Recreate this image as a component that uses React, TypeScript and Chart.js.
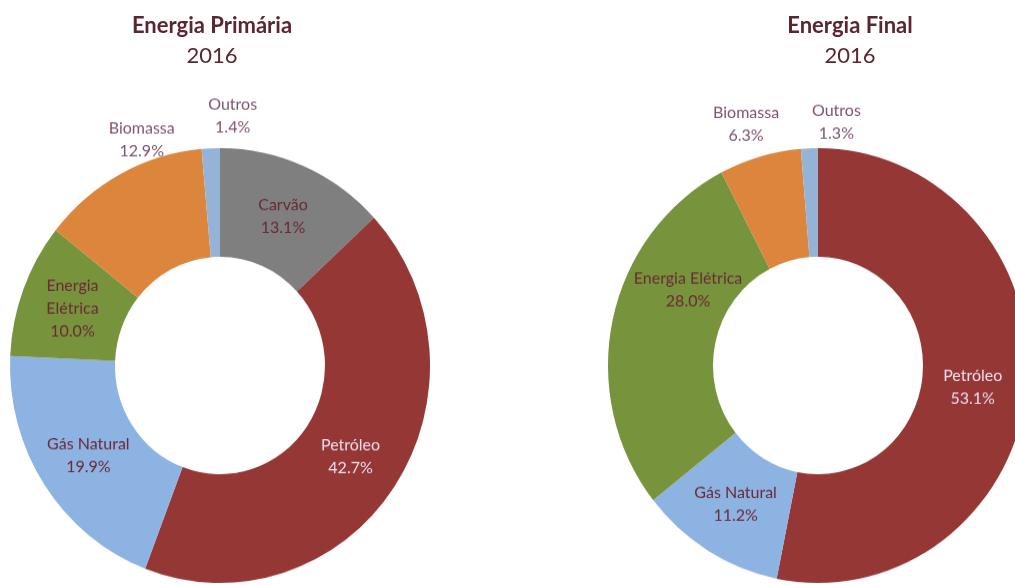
import React, { useEffect, useRef } from "react";
import { Chart, registerables } from "chart.js";

Chart.register(...registerables);

// ---- Data ----
const primaryCategories = ["Carvão", "Petróleo", "Gás Natural", "Energia Elétrica", "Biomassa", "Outros"];
const primaryValues = [13.1, 42.7, 19.9, 10.0, 12.9, 1.4];
const finalCategories = ["Petróleo", "Gás Natural", "Energia Elétrica", "Biomassa", "Outros"];
const finalValues = [53.1, 11.2, 28.0, 6.3, 1.3];
const primaryTitle = ["Energia Primária", "2016"];
const finalTitle = ["Energia Final", "2016"];

// ---- Styles ----
const colorMap: Record<string, string> = {
  "Carvão": "#7f7f7f",
  "Petróleo": "#953735",
  "Gás Natural": "#8db3e2",
  "Energia Elétrica": "#77933c",
  "Biomassa": "#dc853d",
  "Outros": "#95b3d7",
};
const FONT = "Lato, 'Open Sans', sans-serif";
const INSIDE_TEXT = "#6a2a36";
const LIGHT_TEXT = "#efdcef";
const OUTSIDE_TEXT = "#7e5270";

type LabelCfg = {
  outside: string[];
  wrap: Record<string, string[]>;
  nudge: Record<string, [number, number]>;
  light: string[];
};

const primaryLabelCfg: LabelCfg = {
  outside: ["Biomassa", "Outros"],
  wrap: { "Energia Elétrica": ["Energia", "Elétrica"] },
  nudge: { "Biomassa": [33, -11], "Outros": [23, -6] },
  light: ["Petróleo"],
};
const finalLabelCfg: LabelCfg = {
  outside: ["Biomassa", "Outros"],
  wrap: {},
  nudge: { "Biomassa": [-7, -7], "Outros": [28, 0], "Energia Elétrica": [24, -40], "Petróleo": [-2, 5] },
  light: ["Petróleo"],
};

const CANVAS_W = 440;
const CANVAS_H = 706;
const STRETCH_Y = 1.0357;
const RADIUS = 210;

function makeLabelPlugin(cfg: LabelCfg) {
  return {
    id: "sliceLabels",
    afterDatasetsDraw(chart: any) {
      const ctx = chart.ctx as CanvasRenderingContext2D;
      const meta = chart.getDatasetMeta(0);
      const labels = chart.data.labels as string[];
      const values = chart.data.datasets[0].data as number[];
      ctx.save();
      ctx.font = `16px ${FONT}`;
      ctx.textAlign = "center";
      ctx.textBaseline = "middle";
      meta.data.forEach((arc: any, i: number) => {
        const p = arc.getProps(["x", "y", "startAngle", "endAngle", "innerRadius", "outerRadius"], true);
        const name = labels[i];
        const mid = (p.startAngle + p.endAngle) / 2;
        const isOut = cfg.outside.includes(name);
        const r = isOut ? p.outerRadius + 25 : (p.innerRadius + p.outerRadius) / 2;
        const nd = cfg.nudge[name] || [0, 0];
        const cx = p.x + Math.cos(mid) * r + nd[0];
        const cy = p.y + Math.sin(mid) * r + nd[1];
        const lines = [...(cfg.wrap[name] || [name]), values[i].toFixed(1) + "%"];
        ctx.fillStyle = isOut ? OUTSIDE_TEXT : cfg.light.includes(name) ? LIGHT_TEXT : INSIDE_TEXT;
        const lh = 22;
        const y0 = cy - ((lines.length - 1) * lh) / 2;
        lines.forEach((ln, k) => ctx.fillText(ln, cx, y0 + k * lh));
      });
      ctx.restore();
    },
  };
}

function Donut(props: { categories: string[]; values: number[]; cfg: LabelCfg; left: number }) {
  const ref = useRef<HTMLCanvasElement | null>(null);
  useEffect(() => {
    if (!ref.current) return;
    const chart = new Chart(ref.current, {
      type: "doughnut",
      data: {
        labels: props.categories,
        datasets: [
          {
            data: props.values,
            backgroundColor: props.categories.map((c) => colorMap[c]),
            borderWidth: 0,
          },
        ],
      },
      options: {
        animation: false,
        responsive: false,
        devicePixelRatio: 1,
        radius: RADIUS,
        cutout: "50%",
        layout: { padding: 0 },
        plugins: {
          legend: { display: false },
          title: { display: false },
          tooltip: { enabled: false },
        },
      } as any,
      plugins: [makeLabelPlugin(props.cfg)],
    });
    return () => chart.destroy();
  }, []);
  return (
    <canvas
      ref={ref}
      width={CANVAS_W}
      height={CANVAS_H}
      style={{
        position: "absolute",
        left: props.left,
        top: 0,
        width: CANVAS_W + "px",
        height: CANVAS_H * STRETCH_Y + "px",
        display: "block",
      }}
    />
  );
}

function Title(props: { lines: string[]; centerX: number }) {
  return (
    <div
      style={{
        position: "absolute",
        top: 10,
        left: props.centerX - 150,
        width: 300,
        textAlign: "center",
        fontFamily: FONT,
        fontSize: 22,
        lineHeight: "30px",
        color: "#5a2632",
      }}
    >
      <div style={{ fontWeight: 700 }}>{props.lines[0]}</div>
      <div>{props.lines[1]}</div>
    </div>
  );
}

export default function App() {
  return (
    <div
      style={{
        position: "absolute",
        left: 0,
        top: 0,
        width: 1015,
        height: 585,
        overflow: "hidden",
        background: "#ffffff",
      }}
    >
      <Donut categories={primaryCategories} values={primaryValues} cfg={primaryLabelCfg} left={0} />
      <Donut categories={finalCategories} values={finalValues} cfg={finalLabelCfg} left={598} />
      <Title lines={primaryTitle} centerX={212} />
      <Title lines={finalTitle} centerX={850} />
    </div>
  );
}
